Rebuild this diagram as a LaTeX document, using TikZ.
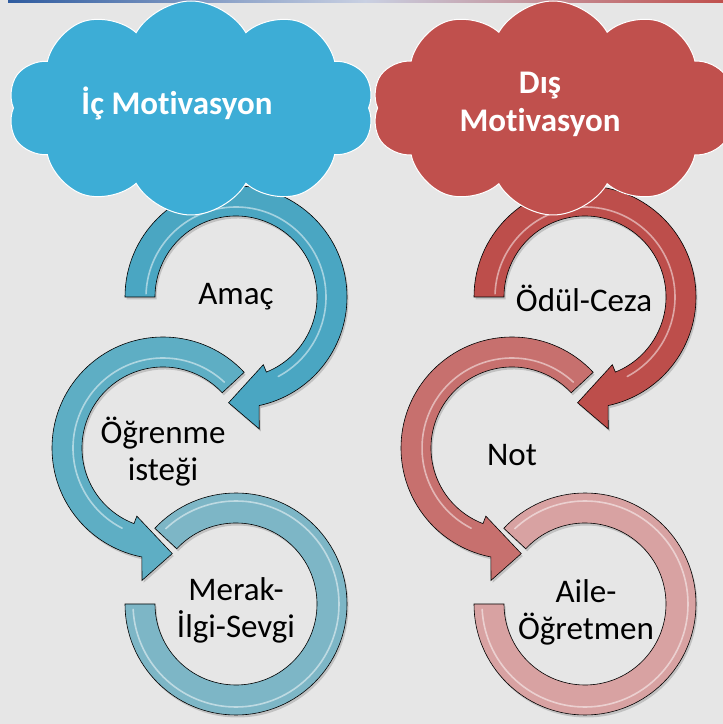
\documentclass[tikz,border=0pt]{standalone}
\usepackage{fontspec}
\setmainfont{Carlito}[Ligatures={NoCommon}]
\usetikzlibrary{calc,shapes.symbols}
\definecolor{bg}{HTML}{E6E6E6}
\definecolor{barblue}{HTML}{2F5CA0}
\definecolor{barmid}{HTML}{C9D0E2}
\definecolor{barred}{HTML}{C0504D}
\definecolor{cloudblue}{HTML}{3DADD6}
\definecolor{cloudred}{HTML}{C0504D}
\definecolor{lA}{HTML}{4AA6C2}
\definecolor{lB}{HTML}{5EAEC4}
\definecolor{lC}{HTML}{7DB6C6}
\definecolor{rA}{HTML}{BD4E4B}
\definecolor{rB}{HTML}{C7706E}
\definecolor{rC}{HTML}{D8A2A2}
% clockwise arrow: #1 start angle, #2 anchor angle of head
\newcommand\cwpath[2]{(#1:111) arc[start angle=#1,end angle={#2-10},radius=111] -- ({#2-12}:134) -- ({#2-26}:106) -- (#2:73) -- (#2:81) arc[start angle=#2,end angle=#1,radius=81] -- cycle}
% counter-clockwise arrow
\newcommand\ccwpath[2]{(#1:111) arc[start angle=#1,end angle={#2+10},radius=111] -- ({#2+12}:134) -- ({#2+26}:106) -- (#2:73) -- (#2:81) arc[start angle=#2,end angle=#1,radius=81] -- cycle}
% plain band
\newcommand\bandpath[2]{(#1:111) arc[start angle=#1,end angle=#2,radius=111] -- (#2:81) arc[start angle=#2,end angle=#1,radius=81] -- cycle}
\tikzset{
  band/.style={fill=#1,draw=black,line width=0.6pt},
  shadowband/.style={fill=black,opacity=0.16},
  gloss/.style={white,opacity=0.5,line width=1.6pt,line cap=round},
  label/.style={text=black,align=center,font=\fontsize{33}{37}\selectfont},
  cloudtext/.style={text=white,align=center,font=\bfseries\fontsize{33}{38}\selectfont},
  cloudbox/.style={cloud,cloud puffs=10,cloud puff arc=120,cloud ignores aspect,draw=white,line width=1pt}
}
\begin{document}
\begin{tikzpicture}[x=1pt,y=1pt]
\useasboundingbox (0,0) rectangle (723,724);
\fill[bg] (0,0) rectangle (723,724);
\clip (0,0) rectangle (723,724);
\shade[left color=barblue,right color=barred,middle color=barmid] (8,721) rectangle (723,724);

\coordinate (L1) at (236,427);
\coordinate (L2) at (163,276);
\coordinate (L3) at (236,120);
\coordinate (R1) at (585,427);
\coordinate (R2) at (512,276);
\coordinate (R3) at (585,120);

% ---- left column ----
\begin{scope}[shift={(L1)}]
  \fill[shadowband,shift={(1.5,-2.5)}] \cwpath{180}{-68};
  \filldraw[band=lA] \cwpath{180}{-68};
  \draw[gloss] (178:90) arc[start angle=178,end angle=-62,radius=90];
\end{scope}
\begin{scope}[shift={(L2)}]
  \fill[shadowband,shift={(1.5,-2.5)}] \ccwpath{43}{249};
  \filldraw[band=lB] \ccwpath{43}{249};
  \draw[gloss] (47:90) arc[start angle=47,end angle=243,radius=90];
\end{scope}
\begin{scope}[shift={(L3)}]
  \fill[shadowband,shift={(1.5,-2.5)}] \bandpath{180}{497};
  \filldraw[band=lC] \bandpath{180}{497};
  \draw[gloss] (183:103) arc[start angle=183,end angle=493,radius=103];
\end{scope}

% ---- right column ----
\begin{scope}[shift={(R1)}]
  \fill[shadowband,shift={(1.5,-2.5)}] \cwpath{180}{-68};
  \filldraw[band=rA] \cwpath{180}{-68};
  \draw[gloss] (178:90) arc[start angle=178,end angle=-62,radius=90];
\end{scope}
\begin{scope}[shift={(R2)}]
  \fill[shadowband,shift={(1.5,-2.5)}] \ccwpath{43}{249};
  \filldraw[band=rB] \ccwpath{43}{249};
  \draw[gloss] (47:90) arc[start angle=47,end angle=243,radius=90];
\end{scope}
\begin{scope}[shift={(R3)}]
  \fill[shadowband,shift={(1.5,-2.5)}] \bandpath{180}{497};
  \filldraw[band=rC] \bandpath{180}{497};
  \draw[gloss] (183:103) arc[start angle=183,end angle=493,radius=103];
\end{scope}

% ---- labels ----
\node[label] (amac) at (236,427) {Amaç};
\node[label] (ogrenme) at (163,272) {Öğrenme\\isteği};
\node[label] (merak) at (236,114) {Merak-\\İlgi-Sevgi};
\node[label] (odul) at (584,426) {Ödül-Ceza};
\node[label] (not) at (512,269) {Not};
\node[label] (aile) at (586,112) {Aile-\\Öğretmen};

% ---- clouds ----
\node[cloudbox,fill=cloudblue,minimum width=366pt,minimum height=214pt] (cloudL) at (191,616) {};
\node[cloudbox,fill=cloudred,minimum width=362pt,minimum height=214pt] (cloudR) at (553,616) {};
\node[cloudtext] (icm) at (177,621) {İç Mot\kern0pt ivasyon};
\node[cloudtext] (dism) at (540,620) {Dış\\Mot\kern0pt ivasyon};
\end{tikzpicture}
\end{document}
